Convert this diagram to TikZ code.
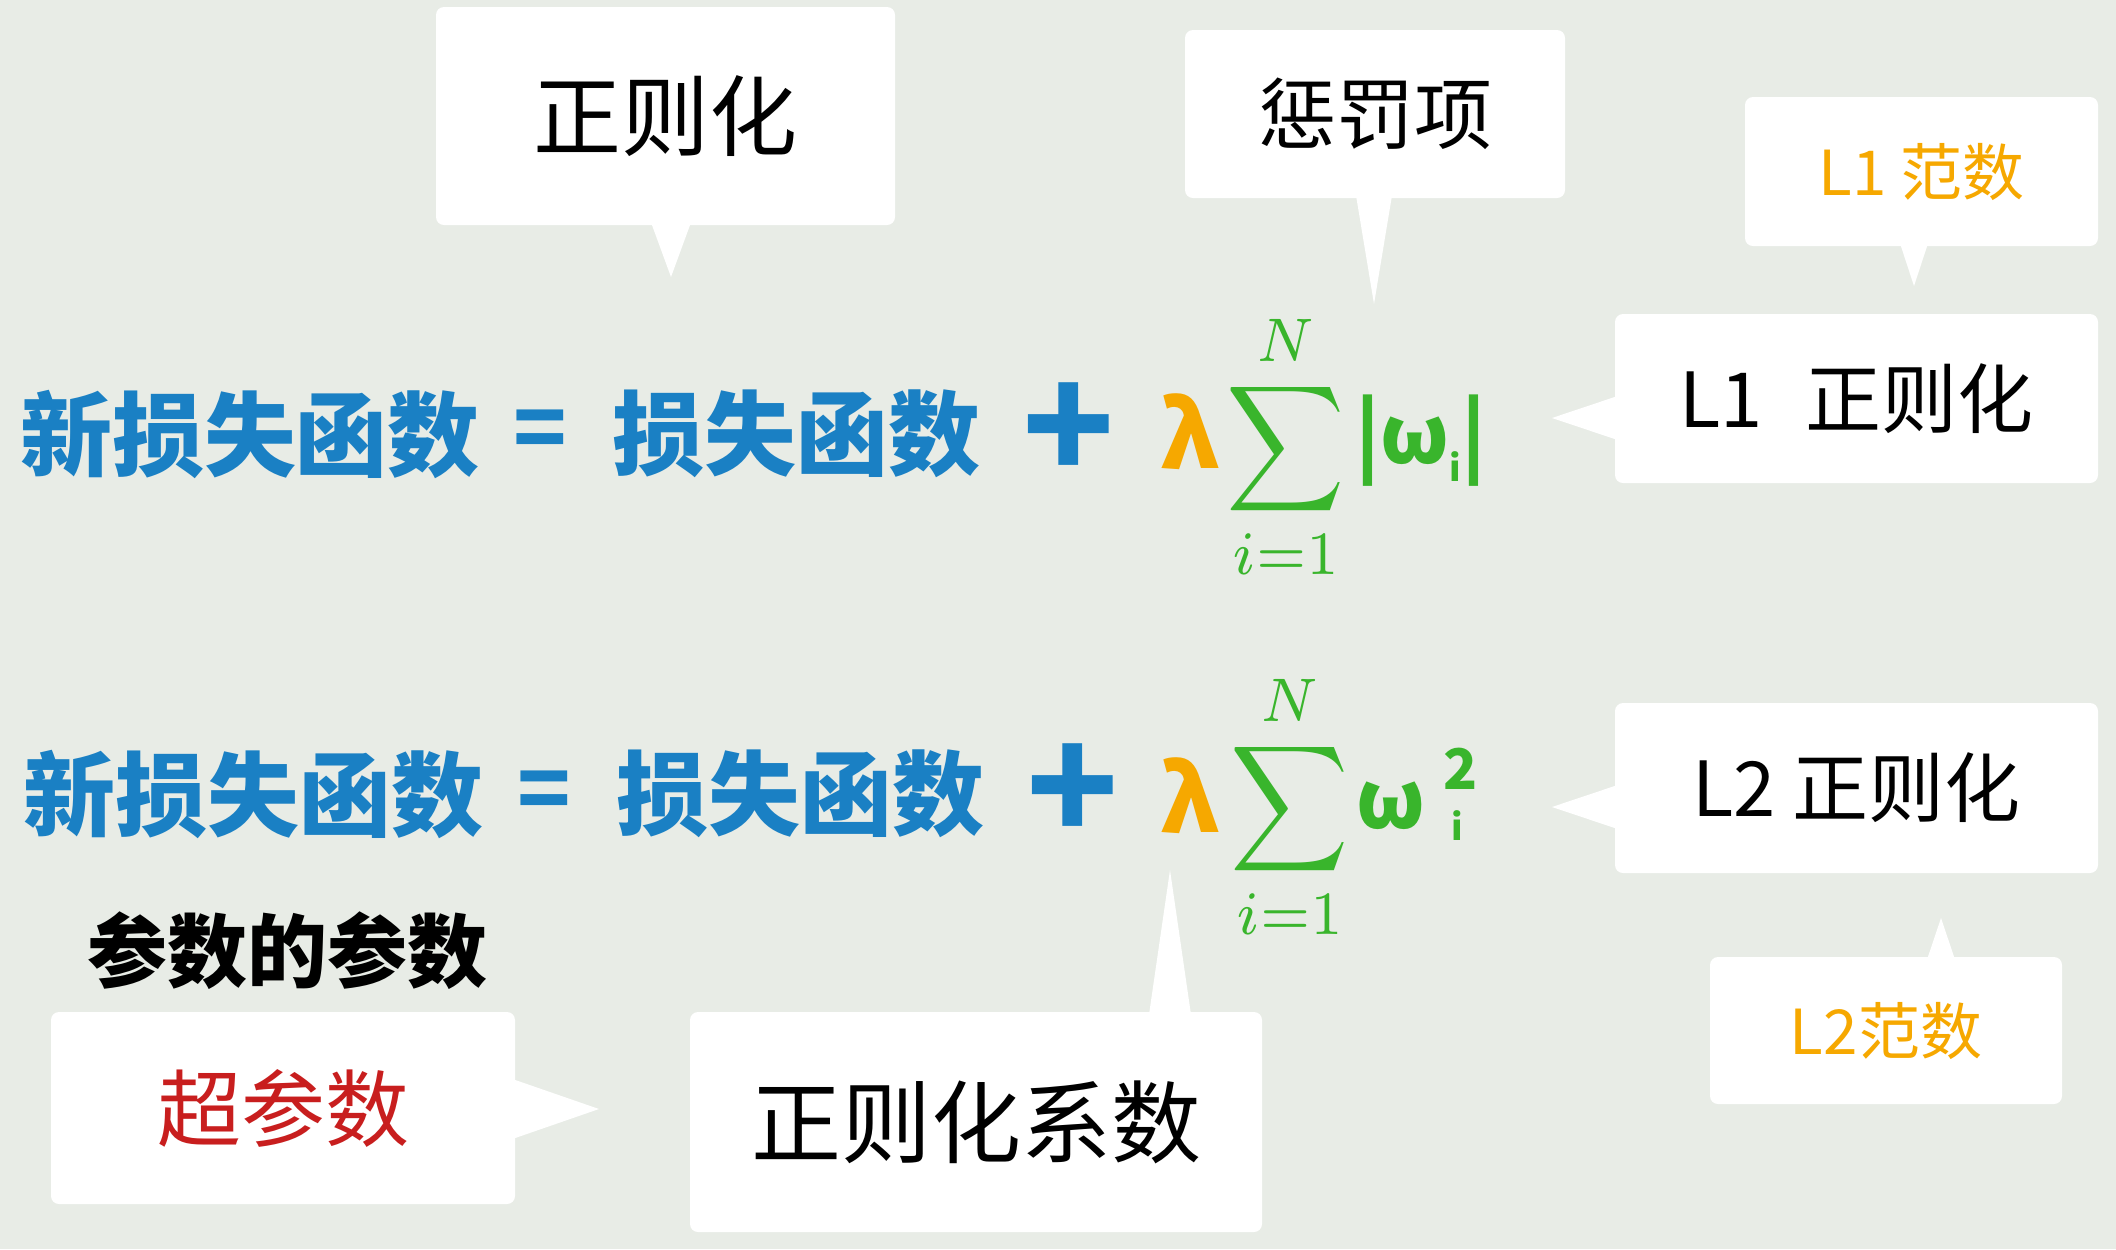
\documentclass[tikz,border=0pt]{standalone}
\usepackage{amsmath}
\usepackage{fontspec}
\usepackage{graphicx}
\newfontfamily\cjk{Noto Sans CJK SC}
\usetikzlibrary{calc}
\newcommand\myfs[1]{\fontsize{#1}{#1}\selectfont}
\newcommand\bigsum{\scalebox{4.1}[4.4]{$\displaystyle\sum_{i=1}^{N}$}}
\definecolor{bgc}{RGB}{232,236,230}
\definecolor{eqblue}{RGB}{26,128,196}
\definecolor{eqorange}{RGB}{246,168,0}
\definecolor{eqgreen}{RGB}{57,181,44}
\definecolor{eqred}{RGB}{200,30,30}
\tikzset{
  box/.style={fill=white, rounded corners=4pt, inner sep=0pt},
  tail/.style={fill=white},
  eqtext/.style={text=eqblue, font=\cjk\bfseries\myfs{46pt}, inner sep=0pt},
  eqsign/.style={text=eqblue, font=\cjk\bfseries\myfs{44pt}, inner sep=0pt},
  plussign/.style={text=eqblue, font=\cjk\bfseries\myfs{76pt}, inner sep=0pt},
  lam/.style={text=eqorange, font=\cjk\bfseries\myfs{46pt}, inner sep=0pt},
  sig/.style={text=eqgreen, inner sep=0pt},
  wterm/.style={text=eqgreen, font=\cjk\bfseries\myfs{40pt}, inner sep=0pt},
  blk/.style={text=black, font=\cjk},
}
\begin{document}
\begin{tikzpicture}[x=0.5pt,y=-0.5pt]
\fill[bgc] (0,0) rectangle (2116,1249);
\useasboundingbox (0,0) rectangle (2116,1249);

% ---- boxes ----
\node[box, minimum width=229.5pt, minimum height=109pt, font=\cjk\myfs{44pt}] (b1) at (665.5,116) {正则化};
\coordinate (t1) at (671,277);
\fill[tail] (t1) -- ($(t1 |- b1.south)+(-20,-3)$) -- ($(t1 |- b1.south)+(20,-3)$) -- cycle;

\node[box, minimum width=190pt, minimum height=84pt, font=\cjk\myfs{39pt}] (b2) at (1375,114) {惩罚项};
\coordinate (t2) at (1374,304);
\fill[tail] (t2) -- ($(t2 |- b2.south)+(-18,-3)$) -- ($(t2 |- b2.south)+(18,-3)$) -- cycle;

\node[box, minimum width=176.5pt, minimum height=74.5pt, text=eqorange, font=\cjk\myfs{31pt}] (b3) at (1921.5,171.5) {L1 范数};
\coordinate (t3) at (1914,286);
\fill[tail] (t3) -- ($(t3 |- b3.south)+(-14,-3)$) -- ($(t3 |- b3.south)+(14,-3)$) -- cycle;

\node[box, minimum width=241.5pt, minimum height=84.5pt, font=\cjk\myfs{38pt}] (b4) at (1856.5,398.5) {L1\,\, 正则化};
\coordinate (t4) at (1552,418);
\fill[tail] (t4) -- ($(t4 -| b4.west)+(3,-22)$) -- ($(t4 -| b4.west)+(3,22)$) -- cycle;

\node[box, minimum width=241.5pt, minimum height=85pt, font=\cjk\myfs{38pt}] (b5) at (1856.5,788) {L2 正则化};
\coordinate (t5) at (1552,807);
\fill[tail] (t5) -- ($(t5 -| b5.west)+(3,-22)$) -- ($(t5 -| b5.west)+(3,22)$) -- cycle;

\node[box, minimum width=176pt, minimum height=73.5pt, text=eqorange, font=\cjk\myfs{31pt}] (b6) at (1886,1030.5) {L2范数};
\coordinate (t6) at (1941,918);
\fill[tail] (t6) -- ($(t6 |- b6.north)+(-14,3)$) -- ($(t6 |- b6.north)+(14,3)$) -- cycle;

\node[box, minimum width=286pt, minimum height=110pt, font=\cjk\myfs{45pt}] (b7) at (976,1122) {正则化系数};
\coordinate (t7) at (1170,870);
\fill[tail] (t7) -- ($(t7 |- b7.north)+(-21,3)$) -- ($(t7 |- b7.north)+(21,3)$) -- cycle;

\node[box, minimum width=232pt, minimum height=96pt, text=eqred, font=\cjk\myfs{42pt}] (b8) at (283,1108) {超参数};
\coordinate (t8) at (599,1109);
\fill[tail] (t8) -- ($(t8 -| b8.east)+(-3,-30)$) -- ($(t8 -| b8.east)+(-3,30)$) -- cycle;

\node[blk, font=\cjk\bfseries\myfs{40pt}, inner sep=0pt] (hp) at (287,951) {参数的参数};

% ---- equation 1 ----
\node[eqtext] (e1a) at (250,434) {新损失函数};
\node[eqsign] (e1eq) at (540,435) {=};
\node[eqtext] (e1b) at (796,434) {损失函数};
\node[plussign] (e1p) at (1069,432) {+};
\node[lam] (e1l) at (1190,432) {λ};
\node[sig] (e1s) at (1286,447) {\bigsum};
\node[wterm] (e1w) at (1421,441) {|ω\raisebox{-9pt}{\myfs{18pt}i}|};

% ---- equation 2 ----
\node[eqtext] (e2a) at (254,794) {新损失函数};
\node[eqsign] (e2eq) at (544,796) {=};
\node[eqtext] (e2b) at (800,794) {损失函数};
\node[plussign] (e2p) at (1073,793) {+};
\node[lam] (e2l) at (1190,796) {λ};
\node[sig] (e2s) at (1290,807) {\bigsum};
\node[wterm] (e2w) at (1391,806) {ω};
\node[wterm, font=\cjk\bfseries\myfs{28pt}] (e2sup) at (1461,769) {2};
\node[wterm, font=\cjk\bfseries\myfs{18pt}] (e2sub) at (1457,826) {i};
\end{tikzpicture}
\end{document}
